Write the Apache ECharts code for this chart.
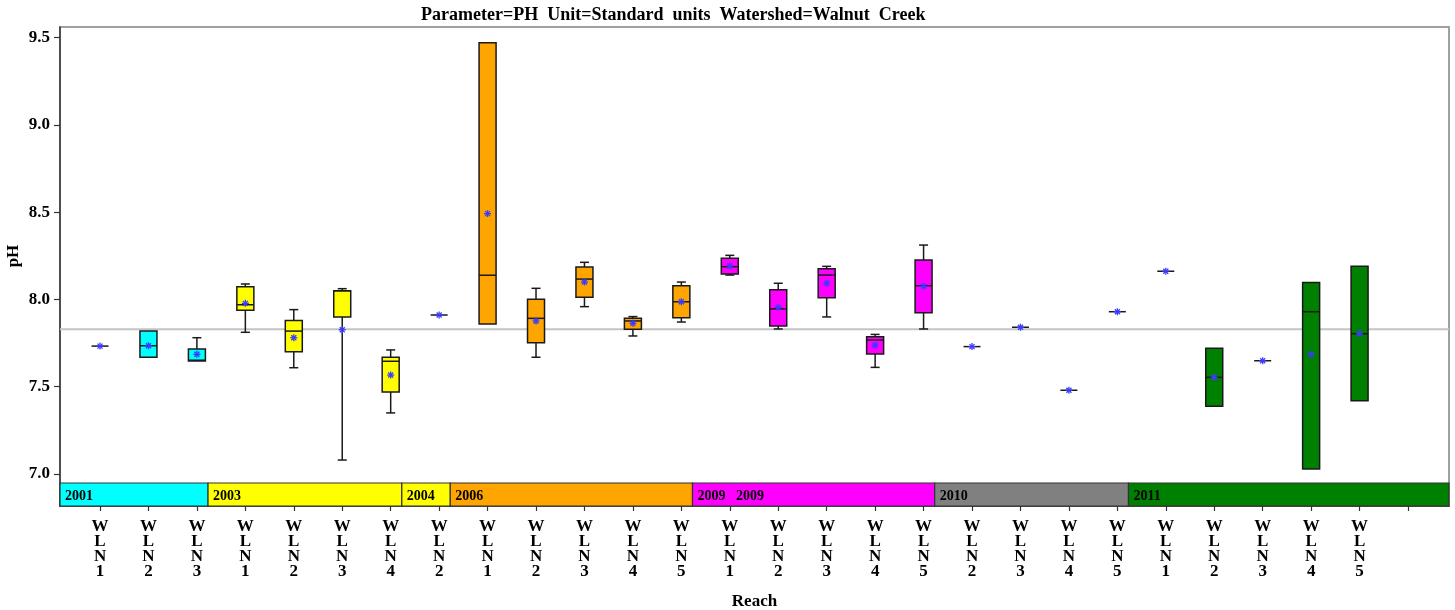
<!DOCTYPE html>
<html><head><meta charset="utf-8">
<script src="https://cdn.jsdelivr.net/npm/echarts@6/dist/echarts.min.js"></script>
<style>html,body{margin:0;padding:0;background:#fff}#c{width:1455px;height:610px}</style>
</head><body><div id="c"></div>
<script>
// ---- data ----
const reaches = ['WLN1','WLN2','WLN3','WLN1','WLN2','WLN3','WLN4','WLN2','WLN1','WLN2','WLN3','WLN4','WLN5','WLN1','WLN2','WLN3','WLN4','WLN5','WLN2','WLN3','WLN4','WLN5','WLN1','WLN2','WLN3','WLN4','WLN5'];
const minVals  = [7.733,7.669,7.648,7.812,7.609,7.080,7.350,7.911,7.860,7.669,7.959,7.791,7.871,8.140,7.831,7.900,7.611,7.831,7.730,7.841,7.480,7.930,8.162,7.388,7.649,7.029,7.420];
const q1Vals   = [7.733,7.669,7.648,7.938,7.701,7.900,7.470,7.911,7.860,7.752,8.013,7.829,7.896,8.146,7.848,8.010,7.688,7.924,7.730,7.841,7.480,7.930,8.162,7.388,7.649,7.029,7.420];
const medVals  = [7.733,7.735,7.652,7.970,7.819,8.050,7.646,7.911,8.139,7.892,8.117,7.877,7.987,8.188,7.946,8.140,7.768,8.079,7.730,7.841,7.480,7.930,8.162,7.554,7.649,7.930,7.804];
const q3Vals   = [7.733,7.819,7.716,8.073,7.879,8.050,7.669,7.911,9.472,8.001,8.186,7.892,8.079,8.236,8.056,8.176,7.787,8.226,7.730,7.841,7.480,7.930,8.162,7.720,7.649,8.098,8.190];
const maxVals  = [7.733,7.819,7.781,8.089,7.942,8.062,7.711,7.911,9.472,8.064,8.213,7.902,8.100,8.253,8.093,8.190,7.800,8.312,7.730,7.841,7.480,7.930,8.162,7.720,7.649,8.098,8.190];
const meanVals = [7.733,7.735,7.686,7.978,7.781,7.827,7.567,7.911,8.492,7.877,8.100,7.864,7.987,8.192,7.955,8.093,7.738,8.076,7.730,7.841,7.480,7.930,8.162,7.554,7.649,7.686,7.804];
const yearLabels = ['2001','2003','2004','2006','2009   2009','2010','2011'];
const yearCounts = [3,4,1,5,5,4,5];
const yearColors = ['#00FFFF','#FFFF00','#FFFF00','#FFA500','#FF00FF','#808080','#008000'];
const refValue = 7.829;
const yTicks = [7.0,7.5,8.0,8.5,9.0,9.5];

// ---- layout constants ----
const xMin = 0.174, xMax = 28.846;
const yMin = 6.8166, yMax = 9.5616, bandTop = 6.9484;
const FONT = 'Liberation Serif';

const boxColors = [];
yearCounts.forEach((n,k)=>{ for(let j=0;j<n;j++) boxColors.push(yearColors[k]); });

const boxData = reaches.map((r,i)=>[i+1, minVals[i], q1Vals[i], medVals[i], q3Vals[i], maxVals[i], meanVals[i]]);

const bandData = [];
let cum = 0;
yearCounts.forEach((n,k)=>{
  const s = k===0 ? xMin : cum + 0.23;
  const e = k===yearCounts.length-1 ? xMax : cum + n + 0.23;
  bandData.push([s, e, k]);
  cum += n;
});

function renderBox(params, api){
  const x = api.value(0);
  const c = v => api.coord([x, v]);
  const pMin=c(api.value(1)), pQ1=c(api.value(2)), pMed=c(api.value(3)), pQ3=c(api.value(4)), pMax=c(api.value(5)), pMean=c(api.value(6));
  const cx = pMin[0], hw = 8.5, cw = 4.5;
  const col = boxColors[params.dataIndex];
  const ls = {stroke:'#1a1a1a', lineWidth:1.5};
  const ch = [];
  if (pQ3[1] - pMax[1] > 0.5) {
    ch.push({type:'line', shape:{x1:cx,y1:pMax[1],x2:cx,y2:pQ3[1]}, style:ls});
    ch.push({type:'line', shape:{x1:cx-cw,y1:pMax[1],x2:cx+cw,y2:pMax[1]}, style:ls});
  }
  if (pMin[1] - pQ1[1] > 0.5) {
    ch.push({type:'line', shape:{x1:cx,y1:pQ1[1],x2:cx,y2:pMin[1]}, style:ls});
    ch.push({type:'line', shape:{x1:cx-cw,y1:pMin[1],x2:cx+cw,y2:pMin[1]}, style:ls});
  }
  if (pQ1[1] - pQ3[1] > 0.5) {
    ch.push({type:'rect', shape:{x:cx-hw,y:pQ3[1],width:2*hw,height:pQ1[1]-pQ3[1]}, style:{fill:col, stroke:'#1a1a1a', lineWidth:1.5}});
    ch.push({type:'line', shape:{x1:cx-hw,y1:pMed[1],x2:cx+hw,y2:pMed[1]}, style:ls});
  } else {
    ch.push({type:'line', shape:{x1:cx-hw,y1:pMed[1],x2:cx+hw,y2:pMed[1]}, style:ls});
  }
  const r = 3.5, d = 2.5, ms = {stroke:'#3b3bff', lineWidth:1.3};
  const mx = pMean[0], my = pMean[1];
  ch.push({type:'line', shape:{x1:mx-r,y1:my,x2:mx+r,y2:my}, style:ms});
  ch.push({type:'line', shape:{x1:mx,y1:my-r,x2:mx,y2:my+r}, style:ms});
  ch.push({type:'line', shape:{x1:mx-d,y1:my-d,x2:mx+d,y2:my+d}, style:ms});
  ch.push({type:'line', shape:{x1:mx-d,y1:my+d,x2:mx+d,y2:my-d}, style:ms});
  return {type:'group', children:ch};
}

function renderBand(params, api){
  const k = api.value(2);
  const p0 = api.coord([api.value(0), bandTop]);
  const p1 = api.coord([api.value(1), yMin]);
  return {type:'group', children:[
    {type:'rect', shape:{x:p0[0], y:p0[1], width:p1[0]-p0[0], height:p1[1]-p0[1]},
     style:{fill:yearColors[k], stroke:'#333', lineWidth:1.2}},
    {type:'text', x:p0[0]+5, y:(p0[1]+p1[1])/2+2,
     style:{text:yearLabels[k], fill:'#000', font:'bold 14px "'+FONT+'"', verticalAlign:'middle', align:'left'}}
  ]};
}

const chart = echarts.init(document.getElementById('c'), null, {renderer:'canvas'});
chart.setOption({
  animation:false,
  backgroundColor:'#fff',
  title:{text:'Parameter=PH  Unit=Standard  units  Watershed=Walnut  Creek', left:416, top:1,
    textStyle:{fontFamily:FONT, fontWeight:'bold', fontSize:18, color:'#000'}},
  grid:{left:60, right:6, top:27, bottom:104, containLabel:false, outerBoundsMode:'none',
    show:true, borderColor:'#a0a0a0', borderWidth:2, backgroundColor:'transparent'},
  xAxis:{type:'value', min:xMin, max:xMax,
    name:'Reach', nameLocation:'middle', nameGap:87,
    nameTextStyle:{fontFamily:FONT, fontWeight:'bold', fontSize:17, color:'#000'},
    axisLine:{show:true, lineStyle:{color:'#333', width:1.5}},
    axisTick:{show:true, length:5, lineStyle:{color:'#333', width:1.2}, customValues:[1,2,3,4,5,6,7,8,9,10,11,12,13,14,15,16,17,18,19,20,21,22,23,24,25,26,27,28]},
    axisLabel:{customValues:reaches.map((r,i)=>i+1), margin:13, lineHeight:15,
      fontFamily:FONT, fontWeight:'bold', fontSize:17, color:'#000',
      formatter:v=>{const r = reaches[Math.round(v)-1]; return r ? r.split('').join('\n') : '';}},
    splitLine:{show:false}},
  yAxis:{type:'value', min:yMin, max:yMax,
    axisLine:{show:true, lineStyle:{color:'#333', width:1.5}},
    axisTick:{show:true, length:6, lineStyle:{color:'#333', width:1.2}, customValues:yTicks},
    axisLabel:{customValues:yTicks, margin:10, fontFamily:FONT, fontWeight:'bold', fontSize:17, color:'#000', formatter:v=>v.toFixed(1)},
    splitLine:{show:false}},
  graphic:[{type:'text', x:14, y:256, rotation:Math.PI/2,
    style:{text:'pH', font:'bold 17px "'+FONT+'"', fill:'#000', align:'center', verticalAlign:'middle'}}],
  series:[
    {type:'line', data:[[xMin, refValue],[xMax, refValue]], symbol:'none', z:1,
     lineStyle:{color:'#c4c4c4', width:2}, silent:true},
    {type:'custom', renderItem:renderBox, data:boxData, z:3, encode:{x:0, y:[1,2,3,4,5,6]}},
    {type:'custom', renderItem:renderBand, data:bandData, z:4, clip:false, encode:{x:[0,1]}}
  ]
});
</script></body></html>
